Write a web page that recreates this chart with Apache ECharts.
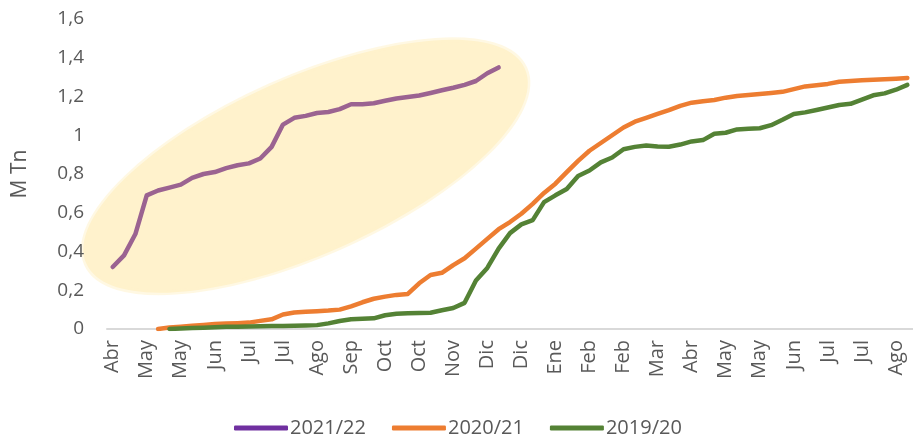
<!DOCTYPE html>
<html>
<head>
<meta charset="utf-8">
<script src="https://cdn.jsdelivr.net/npm/echarts@6/dist/echarts.min.js"></script>
<style>
html,body{margin:0;padding:0;background:#fff;}
#c{width:913px;height:436px;}
</style>
</head>
<body>
<div id="c"></div>
<script>
// Weekly categories (label shown every 3rd week)
const categories = [
  'Abr','Abr','Abr','May','May','May','May','Jun','Jun','Jun','Jun',
  'Jul','Jul','Jul','Jul','Jul','Ago','Ago','Ago','Ago','Sep','Sep','Sep','Sep',
  'Oct','Oct','Oct','Oct','Oct','Nov','Nov','Nov','Nov','Dic','Dic','Dic','Dic','Dic',
  'Ene','Ene','Ene','Ene','Feb','Feb','Feb','Feb','Mar','Mar','Mar','Mar',
  'Abr','Abr','Abr','Abr','May','May','May','May','May','Jun','Jun','Jun','Jun',
  'Jul','Jul','Jul','Jul','Jul','Ago','Ago','Ago'
];
const seriesNames = ['2021/22','2020/21','2019/20'];
const s2021_22 = [0.32,0.38,0.49,0.69,0.715,0.73,0.745,0.78,0.80,0.81,0.83,0.845,0.855,0.88,0.94,1.055,1.09,1.10,1.115,1.12,1.135,1.16,1.16,1.165,1.178,1.19,1.197,1.205,1.218,1.232,1.245,1.26,1.28,1.32,1.35];
const s2020_21 = [null,null,null,null,0.0,0.008,0.012,0.017,0.021,0.026,0.028,0.030,0.033,0.042,0.05,0.075,0.085,0.089,0.092,0.095,0.10,0.117,0.138,0.156,0.167,0.176,0.181,0.236,0.279,0.290,0.330,0.365,0.415,0.465,0.515,
  0.552,0.595,0.646,0.702,0.75,0.81,0.868,0.92,0.96,1.0,1.04,1.07,1.09,1.11,1.13,1.152,1.168,1.176,1.182,1.194,1.203,1.208,1.213,1.218,1.224,1.238,1.252,1.258,1.265,1.276,1.28,1.284,1.287,1.289,1.292,1.296];
const s2019_20 = [null,null,null,null,null,0.0,0.003,0.005,0.007,0.009,0.011,0.012,0.013,0.014,0.015,0.016,0.017,0.018,0.020,0.029,0.041,0.050,0.053,0.055,0.071,0.079,0.081,0.082,0.084,0.097,0.108,0.135,0.25,0.315,0.415,
  0.495,0.54,0.562,0.655,0.69,0.723,0.79,0.818,0.86,0.885,0.928,0.94,0.947,0.942,0.941,0.952,0.968,0.975,1.008,1.013,1.03,1.034,1.036,1.052,1.08,1.11,1.118,1.13,1.143,1.156,1.162,1.184,1.206,1.216,1.235,1.26];
const yTicks = [0,0.2,0.4,0.6,0.8,1,1.2,1.4,1.6];
// Highlight ellipse anchored in data space (category index, value)
const highlightCenter = [17, 0.84];

const FONT = '"Open Sans", sans-serif';
const TXT = '#595959';
const chart = echarts.init(document.getElementById('c'), null, {renderer:'canvas'});
const option = {
  animation:false,
  backgroundColor:'#ffffff',
  grid:{left:107, right:-8, top:19, bottom:107, containLabel:false},
  legend:{
    data:seriesNames,
    left:229, top:413,
    icon:'roundRect',
    itemWidth:54, itemHeight:5, itemGap:26,
    textStyle:{color:TXT, fontSize:20, fontFamily:FONT, padding:[0,0,0,-3]}
  },
  xAxis:{
    type:'category',
    data:categories,
    boundaryGap:true,
    axisLine:{lineStyle:{color:'#D9D9D9', width:2}},
    axisTick:{show:false},
    axisLabel:{interval:2, rotate:90, margin:11, color:TXT, fontSize:20, fontFamily:FONT}
  },
  yAxis:{
    type:'value',
    min:0, max:1.6, interval:0.2,
    name:'M Tn', nameLocation:'middle', nameRotate:90, nameGap:76,
    nameTextStyle:{color:TXT, fontSize:21, fontFamily:FONT},
    axisLine:{show:false}, axisTick:{show:false},
    splitLine:{show:false},
    axisLabel:{margin:23, color:TXT, fontSize:19, fontFamily:FONT,
      formatter:v=>{ const t = yTicks.find(x=>Math.abs(x-v)<1e-6); return String(+((t!==undefined?t:v).toFixed(1))).replace('.',','); }}
  },
  series:[
    {name:seriesNames[0], type:'line', data:s2021_22, symbol:'none', z:5,
     itemStyle:{color:'#7030A0'},
     lineStyle:{color:'#9B6391', width:4.5, cap:'round', join:'round'}},
    {name:seriesNames[1], type:'line', data:s2020_21, symbol:'none', z:4,
     itemStyle:{color:'#ED7D31'},
     lineStyle:{color:'#ED7D31', width:4.5, cap:'round', join:'round'}},
    {name:seriesNames[2], type:'line', data:s2019_20, symbol:'none', z:4,
     itemStyle:{color:'#548235'},
     lineStyle:{color:'#548235', width:4.5, cap:'round', join:'round'}}
  ]
};
chart.setOption(option);
const p = chart.convertToPixel({xAxisIndex:0, yAxisIndex:0}, highlightCenter);
chart.setOption({
  graphic:{elements:[{
    type:'ellipse', z:0, silent:true,
    x:p[0], y:p[1], rotation:24*Math.PI/180,
    shape:{cx:0, cy:0, rx:240, ry:88},
    style:{fill:'#FFF2CC', stroke:'rgba(255,242,204,0.55)', lineWidth:5}
  }]}
});
</script>
</body>
</html>
